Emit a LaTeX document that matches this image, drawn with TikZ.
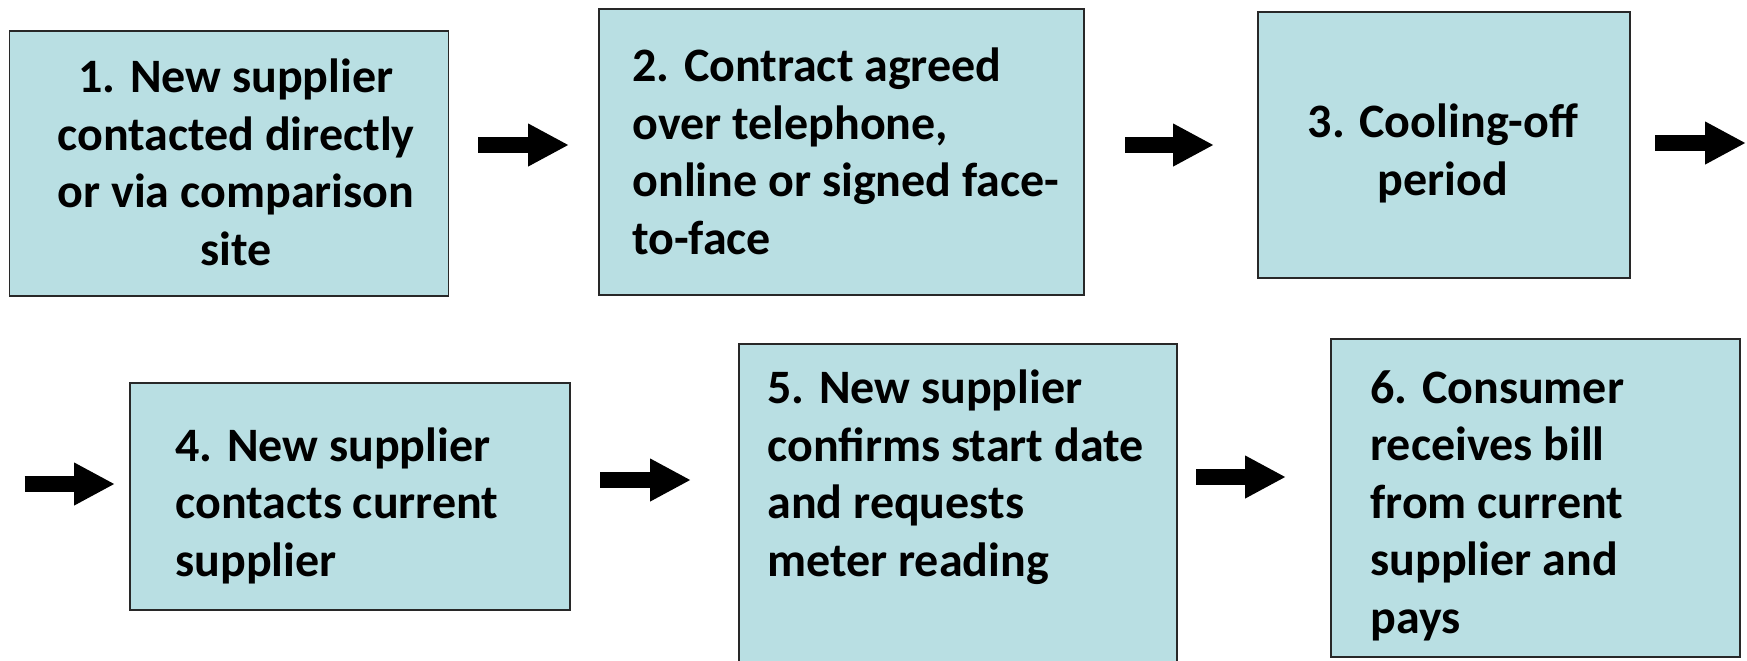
\documentclass[tikz,border=0pt]{standalone}
\usepackage{fontspec}
\setmainfont{Carlito}
\usetikzlibrary{fit,arrows.meta}
\definecolor{boxfill}{RGB}{185,223,227}
\definecolor{boxline}{RGB}{40,40,40}
\tikzset{
  stepbox/.style={draw=boxline, line width=0.8pt, fill=boxfill, inner sep=0pt, rectangle},
  steptext/.style={font=\bfseries\fontsize{24}{28.7}\selectfont, inner sep=0pt},
  blockarrow/.style={line width=8pt, line cap=butt, -{Triangle[length=20.5pt,width=20pt]}}
}
\begin{document}
\begin{tikzpicture}[x=0.5pt,y=-0.5pt]
\clip (0,0) rectangle (1747,660);
\fill[white] (0,0) rectangle (1747,660);
% boxes
\node[stepbox, fit={(9.6,31) (448.5,296)}] (b1) {};
\node[stepbox, fit={(599,9) (1084,295)}] (b2) {};
\node[stepbox, fit={(1258,12) (1630,278)}] (b3) {};
\node[stepbox, fit={(130,383) (570,610)}] (b4) {};
\node[stepbox, fit={(739,344) (1177,690)}] (b5) {};
\node[stepbox, fit={(1331,339) (1740,657)}] (b6) {};
% texts (anchored at the baseline of the last line)
\node[steptext, anchor=base, align=center] (t1) at (236,265) {1. New supplier\\contacted directly\\or via comparison\\site};
\node[steptext, anchor=base west, align=left] (t2) at (632,254) {2. Contract agreed\\over telephone,\\online or signed face-\\to-face};
\node[steptext, anchor=base, align=center] (t3) at (1443,195) {3. Cooling-off\\period};
\node[steptext, anchor=base west, align=left] (t4) at (175,576) {4. New supplier\\contacts current\\supplier};
\node[steptext, anchor=base west, align=left] (t5) at (767,576) {5. New supplier\\confirms start date\\and requests\\meter reading};
\node[steptext, anchor=base west, align=left] (t6) at (1370,633) {6. Consumer\\receives bill\\from current\\supplier and\\pays};
% arrow end points
\coordinate (a1s) at (478,145);  \coordinate (a1e) at (569,145);
\coordinate (a2s) at (1125,145); \coordinate (a2e) at (1214,145);
\coordinate (a3s) at (1655,143); \coordinate (a3e) at (1746,143);
\coordinate (a4s) at (24.5,484); \coordinate (a4e) at (115,484);
\coordinate (a5s) at (600,480);  \coordinate (a5e) at (691,480);
\coordinate (a6s) at (1196,477); \coordinate (a6e) at (1286,477);
\draw[blockarrow] (a1s) -- (a1e);
\draw[blockarrow] (a2s) -- (a2e);
\draw[blockarrow] (a3s) -- (a3e);
\draw[blockarrow] (a4s) -- (a4e);
\draw[blockarrow] (a5s) -- (a5e);
\draw[blockarrow] (a6s) -- (a6e);
\end{tikzpicture}
\end{document}
